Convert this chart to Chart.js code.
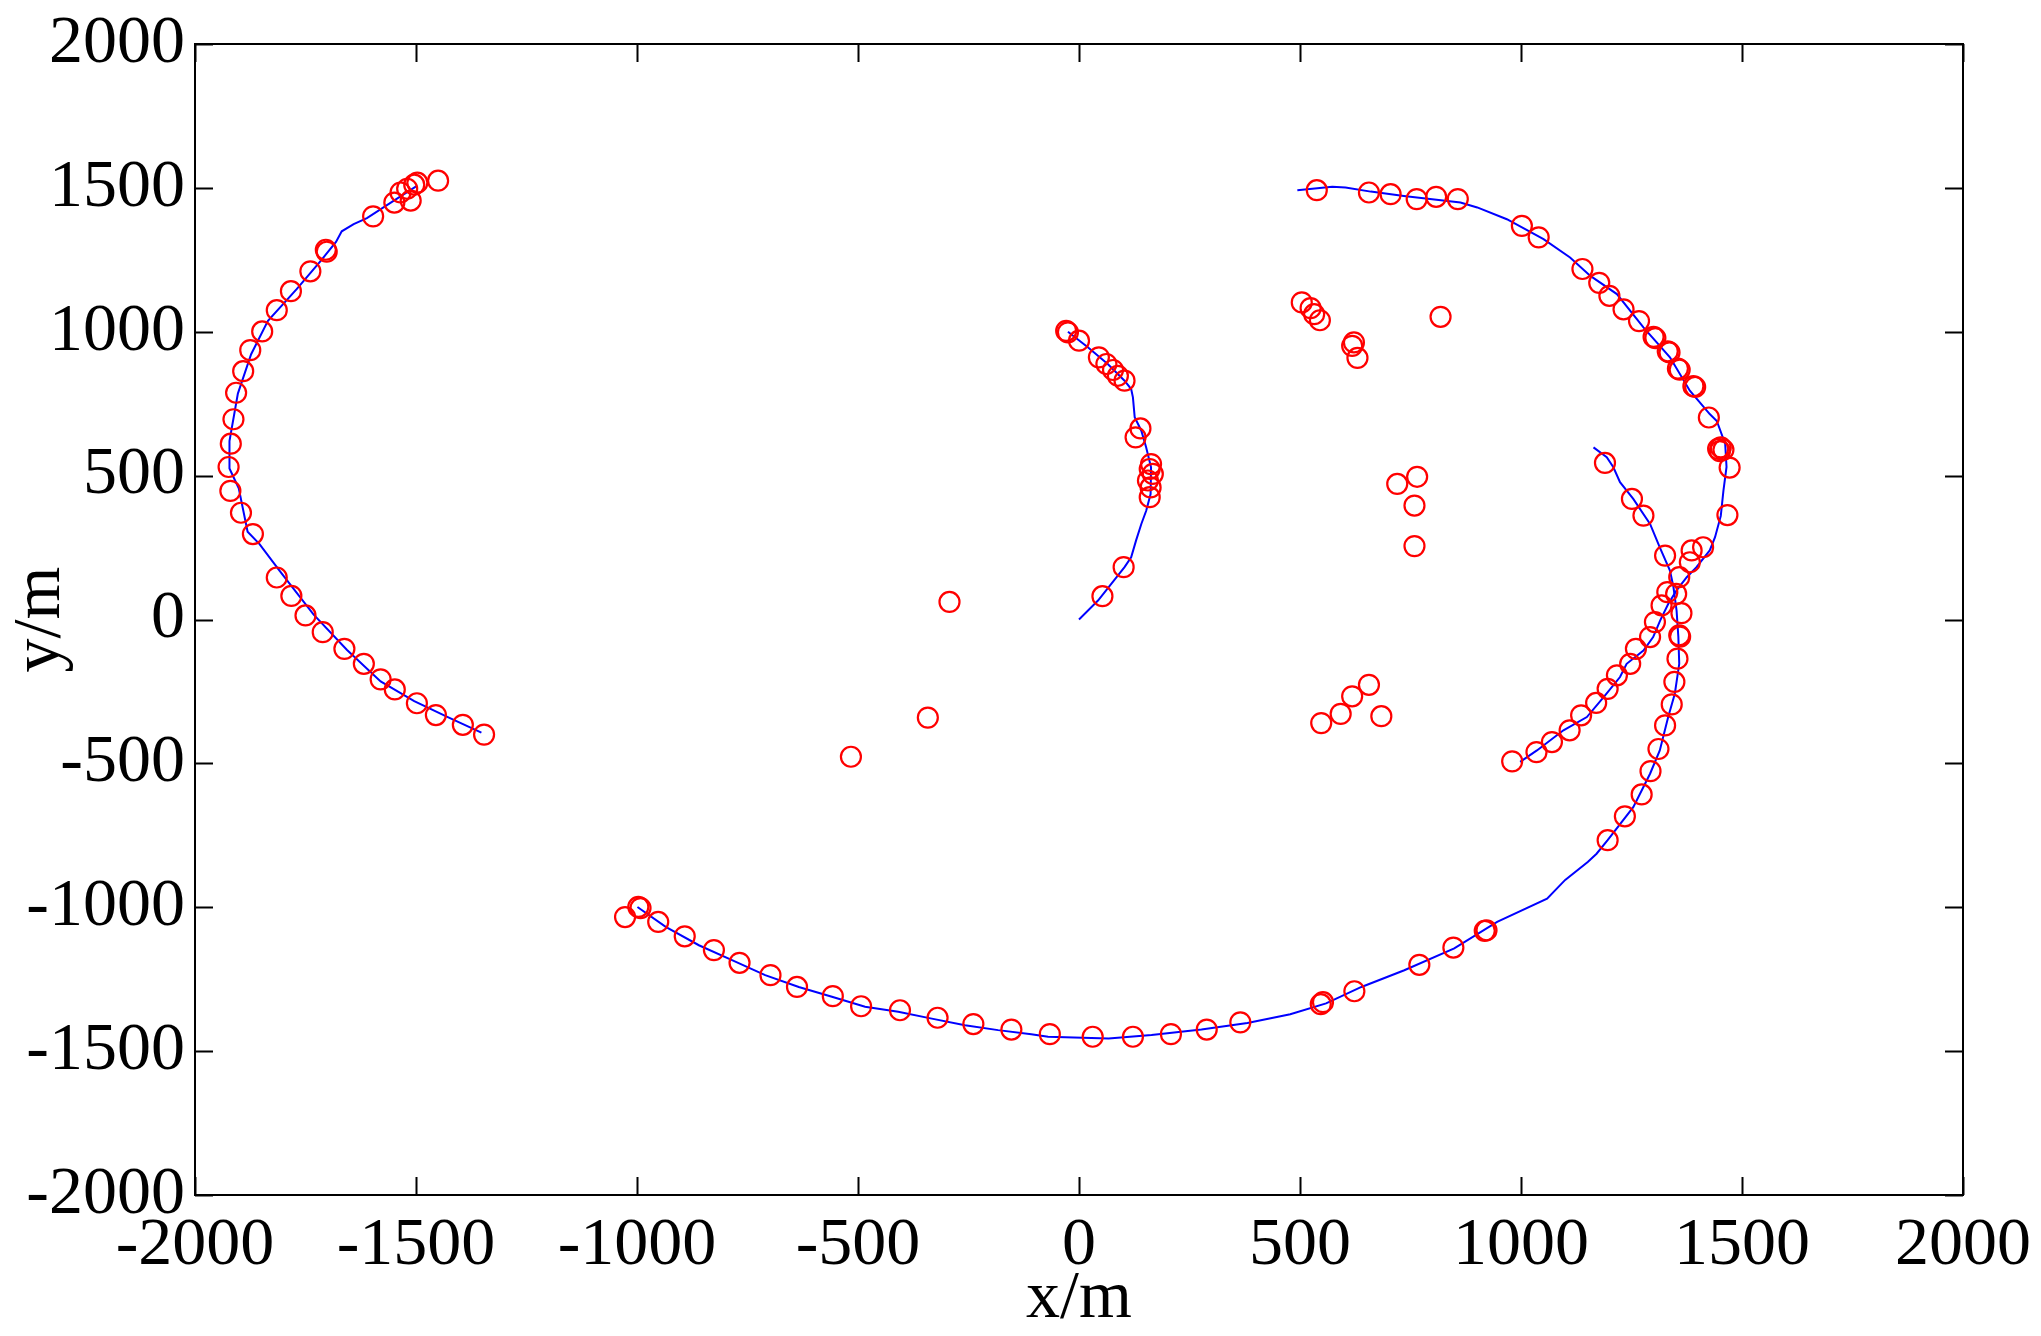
<!DOCTYPE html>
<html>
<head>
<meta charset="utf-8">
<title>Tracks</title>
<script src="https://cdn.jsdelivr.net/npm/chart.js@4.4.0/dist/chart.umd.min.js"></script>
<style>
    html, body { margin: 0; padding: 0; background: #fff; }
    #wrap { width: 2041px; height: 1336px; }
</style>
</head>
<body>
<div id="wrap"><canvas id="trackChart"></canvas></div>
<script>
// axis ticks (both axes use the same range)
const axisTicks = [-2000, -1500, -1000, -500, 0, 500, 1000, 1500, 2000];

// true tracks (blue lines), [x, y] in metres
const leftTrack = [
    [-1497, 1508], [-1550, 1456], [-1611, 1395], [-1641, 1374], [-1668, 1349], [-1681, 1312],
    [-1717, 1244], [-1770, 1148], [-1835, 1038], [-1873, 922], [-1903, 785], [-1922, 620],
    [-1922, 525], [-1901, 456], [-1881, 305], [-1854, 262], [-1808, 168], [-1732, 18],
    [-1656, -106], [-1580, -215], [-1504, -284], [-1428, -339], [-1352, -393]
];
const centerTrack = [
    [-25, 1000], [20, 946], [65, 888], [103, 830], [118, 801], [122, 772], [126, 703],
    [141, 656], [152, 598], [163, 529], [162, 436], [152, 378], [141, 332], [129, 274],
    [118, 216], [103, 182], [73, 124], [43, 66], [0, 0]
];
const rightTrackA = [
    [494, 1492], [573, 1504], [603, 1501], [660, 1487], [735, 1472], [863, 1449], [901, 1432],
    [968, 1391], [1051, 1322], [1111, 1258], [1157, 1194], [1217, 1131], [1277, 1015],
    [1337, 911], [1382, 795], [1427, 714], [1443, 690], [1462, 610], [1465, 530], [1458, 448],
    [1452, 360], [1439, 286], [1427, 240], [1397, 182], [1375, 147], [1352, 101], [1333, 54],
    [1315, -3], [1299, -61], [1277, -108], [1239, -154], [1224, -200], [1187, -270],
    [1149, -339], [1096, -385], [1036, -455], [998, -495]
];
const rightTrackB = [
    [1164, 598], [1194, 564], [1209, 529], [1224, 477], [1254, 419], [1292, 332], [1314, 251],
    [1337, 170], [1345, 112], [1352, 31], [1356, -61], [1358, -154], [1348, -258], [1333, -339],
    [1314, -455], [1292, -536], [1254, -652], [1196, -767], [1171, -814], [1151, -843],
    [1100, -905], [1059, -970], [946, -1051], [849, -1143], [736, -1219], [639, -1277],
    [559, -1334], [478, -1372], [381, -1402], [277, -1425], [164, -1444], [67, -1456],
    [-70, -1450], [-108, -1441], [-183, -1427], [-258, -1410], [-333, -1387], [-409, -1363],
    [-484, -1346], [-559, -1311], [-634, -1277], [-710, -1236], [-785, -1184], [-860, -1132],
    [-935, -1068], [-999, -999]
];

// measurements (red circles)
const leftObs = [
    [-1450, 1525], [-1497, 1518], [-1504, 1511], [-1520, 1497], [-1535, 1484], [-1512, 1456],
    [-1549, 1449], [-1597, 1401], [-1704, 1285], [-1702, 1278], [-1739, 1210], [-1783, 1141],
    [-1815, 1075], [-1848, 1001], [-1875, 936], [-1891, 863], [-1907, 788], [-1913, 696],
    [-1919, 611], [-1924, 530], [-1920, 447], [-1896, 371], [-1869, 297], [-1815, 146],
    [-1782, 82], [-1750, 14], [-1711, -44], [-1662, -102], [-1618, -154], [-1580, -208],
    [-1548, -243], [-1498, -291], [-1455, -332], [-1394, -366], [-1346, -400]
];
const centerObs = [
    [-29, 1003], [-25, 998], [0, 969], [45, 911], [62, 888], [77, 867], [88, 847], [103, 830],
    [139, 664], [128, 633], [163, 540], [160, 523], [167, 506], [156, 483], [162, 459],
    [160, 425], [101, 182], [53, 81]
];
const rightObs = [
    [538, 1492], [656, 1484], [705, 1478], [764, 1461], [808, 1469], [857, 1461], [1002, 1368],
    [1040, 1328], [1139, 1218], [1177, 1170], [1200, 1125], [1232, 1078], [1267, 1037],
    [1300, 982], [1304, 978], [1332, 932], [1336, 928], [1355, 872], [1359, 868], [1390, 811],
    [1394, 808], [1425, 702], [1446, 593], [1452, 598], [1458, 590], [1450, 585], [1472, 528],
    [1467, 363]
];
const crossObs = [
    [1190, 544], [1251, 419], [1277, 361], [1326, 222], [1358, 147], [1331, 95], [1351, 89],
    [1318, 49], [1363, 22], [1358, -55], [1360, -60], [1354, -136], [1347, -217], [1341, -295],
    [1326, -368], [1311, -450], [1293, -527], [1273, -608], [1235, -684], [1196, -767],
    [1386, 240], [1412, 251], [1382, 199], [1303, -9], [1292, -61], [1260, -102], [1247, -154],
    [1217, -194], [1196, -241], [1170, -290], [1136, -333], [1110, -385], [1070, -426],
    [1035, -461], [980, -493]
];
const bottomObs = [
    [-1027, -1034], [-997, -999], [-992, -1003], [-952, -1051], [-892, -1101], [-826, -1149],
    [-768, -1193], [-698, -1236], [-638, -1277], [-557, -1309], [-493, -1344], [-405, -1358],
    [-320, -1384], [-239, -1406], [-153, -1425], [-66, -1441], [31, -1450], [122, -1450],
    [208, -1441], [289, -1425], [365, -1400], [547, -1337], [552, -1330], [623, -1292],
    [770, -1200], [847, -1140], [918, -1082], [922, -1080]
];
const clutterObs = [
    [-293, 61], [-342, -341], [-516, -477], [504, 1102], [524, 1082], [532, 1061], [545, 1040],
    [622, 963], [618, 951], [630, 909], [818, 1052], [720, 471], [765, 496], [759, 396],
    [759, 255], [656, -227], [618, -267], [592, -328], [548, -360], [684, -336]
];

function toPoints(list) {
    return list.map(p => ({ x: p[0], y: p[1] }));
}

function trackDataset(list) {
    return {
        data: toPoints(list),
        showLine: true,
        borderColor: '#0000ff',
        borderWidth: 2,
        pointRadius: 0,
        fill: false,
        tension: 0,
        order: 2
    };
}

// inward tick marks on all four sides plus the box
const boxTicks = {
    id: 'boxTicks',
    afterDraw(chart) {
        const ctx = chart.ctx;
        const a = chart.chartArea;
        const xs = chart.scales.x;
        const ys = chart.scales.y;
        const len = 18;
        ctx.save();
        ctx.strokeStyle = '#000';
        ctx.lineWidth = 2;
        ctx.beginPath();
        xs.ticks.forEach(t => {
            const px = Math.round(xs.getPixelForValue(t.value)) + 0.5;
            ctx.moveTo(px, a.bottom); ctx.lineTo(px, a.bottom - len);
            ctx.moveTo(px, a.top); ctx.lineTo(px, a.top + len);
        });
        ys.ticks.forEach(t => {
            const py = Math.round(ys.getPixelForValue(t.value)) + 0.5;
            ctx.moveTo(a.left, py); ctx.lineTo(a.left + len, py);
            ctx.moveTo(a.right, py); ctx.lineTo(a.right - len, py);
        });
        ctx.stroke();
        ctx.strokeRect(a.left, a.top, a.right - a.left, a.bottom - a.top);
        ctx.restore();
    }
};

Chart.defaults.font.family = '"Liberation Serif", "Times New Roman", serif';
Chart.defaults.color = '#000';

const tickFont = { size: 68 };
const plainLabel = v => String(v);

new Chart(document.getElementById('trackChart').getContext('2d'), {
    type: 'scatter',
    data: {
        datasets: [
            {
                data: toPoints([].concat(leftObs, centerObs, rightObs, crossObs, bottomObs, clutterObs)),
                pointStyle: 'circle',
                pointRadius: 10,
                pointBorderWidth: 2.2,
                pointBorderColor: '#ff0000',
                pointBackgroundColor: 'rgba(0,0,0,0)',
                showLine: false,
                order: 1
            },
            trackDataset(leftTrack),
            trackDataset(centerTrack),
            trackDataset(rightTrackA),
            trackDataset(rightTrackB)
        ]
    },
    plugins: [boxTicks],
    options: {
        responsive: true,
        maintainAspectRatio: false,
        animation: false,
        layout: {
            padding: { top: 43, right: 74, left: 0, bottom: 0 }
        },
        scales: {
            x: {
                type: 'linear',
                min: -2000,
                max: 2000,
                afterBuildTicks: scale => { scale.ticks = axisTicks.map(v => ({ value: v })); },
                afterFit: scale => { scale.height = 141; },
                ticks: { font: tickFont, padding: 10, maxRotation: 0, autoSkip: false, callback: plainLabel },
                grid: { display: false, drawTicks: false },
                border: { display: false },
                title: { display: true, text: 'x/m', font: tickFont, padding: { top: 0, bottom: -4 } }
            },
            y: {
                type: 'linear',
                min: -2000,
                max: 2000,
                afterBuildTicks: scale => { scale.ticks = axisTicks.map(v => ({ value: v })); },
                afterFit: scale => { scale.width = 195; },
                ticks: { font: { size: 68, lineHeight: 1 }, padding: 10, autoSkip: false, callback: plainLabel },
                grid: { display: false, drawTicks: false },
                border: { display: false },
                title: { display: true, text: 'y/m', font: tickFont, padding: { top: 0, bottom: 0 } }
            }
        },
        plugins: {
            legend: { display: false },
            tooltip: { enabled: false }
        }
    }
});
</script>
</body>
</html>
